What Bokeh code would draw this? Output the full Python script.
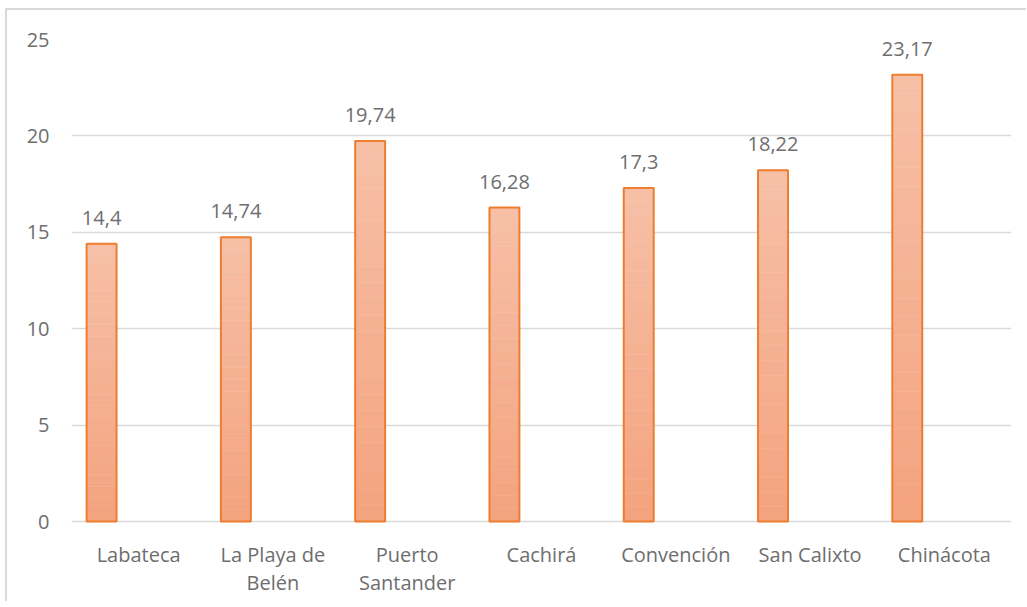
import numpy as np
from bokeh.plotting import figure
from bokeh.models import FactorRange, ColumnDataSource, LabelSet, SingleIntervalTicker
from bokeh.core.properties import value
from bokeh.transform import dodge
from bokeh.embed import file_html
from bokeh.resources import INLINE

categories = ["Labateca", "La Playa de Belén", "Puerto Santander", "Cachirá",
              "Convención", "San Calixto", "Chinácota"]
tick_line1 = ["Labateca", "La Playa de", "Puerto", "Cachirá",
              "Convención", "San Calixto", "Chinácota"]
tick_line2 = ["", "Belén", "Santander", "", "", "", ""]
values = [14.4, 14.74, 19.74, 16.28, 17.3, 18.22, 23.17]
value_labels = ["14,4", "14,74", "19,74", "16,28", "17,3", "18,22", "23,17"]

FONT = "Open Sans"
TXT = "#6E6E6E"
GRID = "#D9D9D9"

# plot frame extends below zero so that category labels can be drawn inside it
FRAME_H_DATA = 482   # px for 0..25
EXTRA_PX = 80        # px below zero for the category labels
y_start = -25 * EXTRA_PX / FRAME_H_DATA

p = figure(x_range=FactorRange(*categories, range_padding=0), y_range=(y_start, 25),
           width=1019, height=591, output_backend="svg", toolbar_location=None,
           frame_width=940, frame_height=FRAME_H_DATA + EXTRA_PX,
           min_border_left=64, min_border_right=15, min_border_top=29, min_border_bottom=0)
p.margin = (8, 0, 0, 5)
p.styles = {"border-top": "2px solid #D9D9D9", "border-left": "2px solid #D9D9D9"}
p.outline_line_color = None
p.background_fill_color = "white"
p.border_fill_color = "white"

# gradient fill by slices
n = 24
top_c = np.array([0xF6, 0xBF, 0xA6])
bot_c = np.array([0xF4, 0xA3, 0x7F])
xs, bots, tops, cols = [], [], [], []
for c, v in zip(categories, values):
    for k in range(n):
        f = k / (n - 1)
        col = bot_c + (top_c - bot_c) * f
        xs.append(c)
        bots.append(v * k / n)
        tops.append(v * (k + 1) / n)
        cols.append("#%02x%02x%02x" % tuple(int(round(x)) for x in col))
gsrc = ColumnDataSource(dict(x=xs, bottom=bots, top=tops, color=cols))
p.vbar(x=dodge("x", -0.276, range=p.x_range), bottom="bottom", top="top", width=0.223,
       fill_color="color", line_color="color", line_width=0.5, source=gsrc)

src = ColumnDataSource(dict(x=categories, top=values, lab=value_labels,
                            l1=tick_line1, l2=tick_line2, zero=[0] * len(values)))
p.vbar(x=dodge("x", -0.276, range=p.x_range), top="top", bottom=0, width=0.223,
       fill_color=None, line_color="#ED7D31", line_width=2, source=src)

labels = LabelSet(x=dodge("x", -0.276, range=p.x_range), y="top", text="lab", source=src,
                  text_align="center", text_baseline="alphabetic", y_offset=19,
                  text_font=value(FONT), text_font_size=value("20px"), text_color=TXT)
p.add_layout(labels)

p.text(x="x", y="zero", text="l1", source=src, text_align="center",
       text_baseline="middle", y_offset=33,
       text_font=value(FONT), text_font_size=value("20px"), text_color=TXT)
p.text(x="x", y="zero", text="l2", source=src, text_align="center",
       text_baseline="middle", y_offset=61,
       text_font=value(FONT), text_font_size=value("20px"), text_color=TXT)

p.yaxis.ticker = SingleIntervalTicker(interval=5)
p.ygrid.grid_line_color = GRID
p.ygrid.grid_line_width = 1.5
p.xgrid.grid_line_color = None
p.xaxis.visible = False

p.yaxis.major_tick_line_color = None
p.yaxis.minor_tick_line_color = None
p.yaxis.major_label_text_font = FONT
p.yaxis.major_label_text_font_size = "20px"
p.yaxis.major_label_text_color = TXT
p.yaxis.axis_line_color = None
p.yaxis.major_label_standoff = 16

open("out.html", "w").write(file_html(p, INLINE))
